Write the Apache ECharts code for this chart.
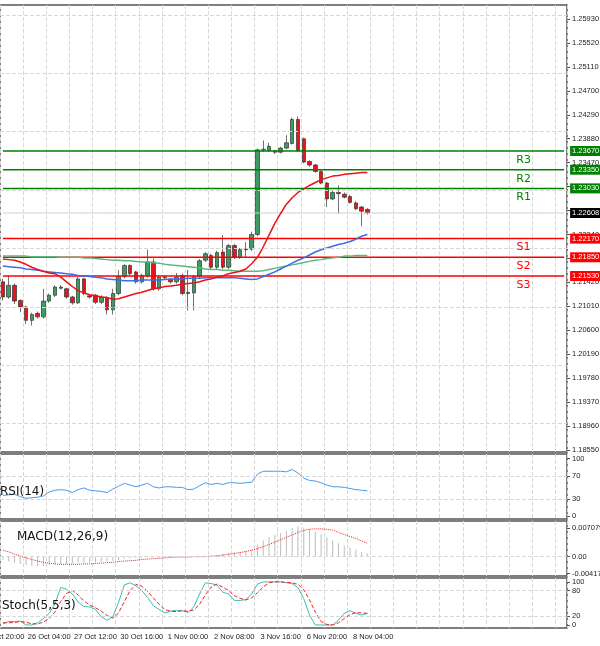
<!DOCTYPE html>
<html><head><meta charset="utf-8">
<script src="https://cdn.jsdelivr.net/npm/echarts@6/dist/echarts.min.js"></script>
<style>html,body{margin:0;padding:0;background:#fff}#c{width:600px;height:646px}</style>
</head><body><div id="c"></div>
<script>
const timeLabels=["25 Oct 20:00","26 Oct 04:00","27 Oct 12:00","30 Oct 16:00","1 Nov 00:00","2 Nov 08:00","3 Nov 16:00","6 Nov 20:00","8 Nov 04:00"];
const priceTicks=[1.25930,1.25520,1.25110,1.24700,1.24290,1.23880,1.23470,1.23060,1.22650,1.22240,1.21830,1.21420,1.21010,1.20600,1.20190,1.19780,1.19370,1.18960,1.18550];
// [open, close, low, high]
const ohlc=[
[1.2143,1.2117,1.2111,1.2148],[1.2117,1.2137,1.2114,1.2154],[1.2137,1.2110,1.2105,1.2140],[1.2111,1.2100,1.2091,1.2113],
[1.2100,1.2077,1.2071,1.2102],[1.2077,1.2087,1.2068,1.2090],[1.2089,1.2083,1.2080,1.2092],[1.2083,1.2110,1.2080,1.2131],
[1.2110,1.2120,1.2107,1.2123],[1.2120,1.2134,1.2117,1.2137],[1.2132,1.2134,1.2130,1.2137],[1.2131,1.2117,1.2114,1.2133],
[1.2117,1.2107,1.2104,1.2119],[1.2107,1.2148,1.2105,1.2151],[1.2148,1.2123,1.2120,1.2150],[1.2119,1.2117,1.2114,1.2122],
[1.2120,1.2108,1.2105,1.2122],[1.2108,1.2117,1.2105,1.2120],[1.2115,1.2095,1.2087,1.2118],[1.2095,1.2123,1.2087,1.2131],
[1.2123,1.2152,1.2120,1.2163],[1.2152,1.2171,1.2149,1.2173],[1.2171,1.2157,1.2154,1.2173],[1.2160,1.2143,1.2140,1.2162],
[1.2143,1.2154,1.2140,1.2157],[1.2154,1.2177,1.2150,1.2198],[1.2177,1.2131,1.2128,1.2183],[1.2131,1.2151,1.2128,1.2154],
[1.2151,1.2150,1.2147,1.2154],[1.2147,1.2143,1.2140,1.2149],[1.2143,1.2151,1.2140,1.2158],[1.2154,1.2123,1.2120,1.2157],
[1.2123,1.2125,1.2094,1.2163],[1.2124,1.2152,1.2094,1.2155],[1.2152,1.2179,1.2149,1.2182],[1.2180,1.2191,1.2177,1.2194],
[1.2188,1.2168,1.2165,1.2191],[1.2168,1.2193,1.2165,1.2196],[1.2194,1.2168,1.2165,1.2223],[1.2168,1.2205,1.2165,1.2208],
[1.2205,1.2185,1.2182,1.2208],[1.2185,1.2198,1.2182,1.2201],[1.2198,1.2199,1.2185,1.2211],[1.2199,1.2224,1.2196,1.2229],
[1.2224,1.2369,1.2221,1.2371],[1.2369,1.2370,1.2365,1.2385],[1.2368,1.2375,1.2366,1.2381],[1.2367,1.2365,1.2362,1.2369],
[1.2365,1.2372,1.2363,1.2374],[1.2372,1.2381,1.2370,1.2394],[1.2380,1.2421,1.2378,1.2424],[1.2421,1.2368,1.2365,1.2426],
[1.2388,1.2348,1.2346,1.2390],[1.2349,1.2343,1.2340,1.2351],[1.2343,1.2332,1.2330,1.2345],[1.2332,1.2312,1.2310,1.2334],
[1.2312,1.2285,1.2271,1.2314],[1.2285,1.2296,1.2283,1.2299],[1.2296,1.2294,1.2260,1.2308],[1.2293,1.2288,1.2286,1.2296],
[1.2289,1.2279,1.2277,1.2292],[1.2278,1.2268,1.2266,1.2281],[1.2271,1.2264,1.2238,1.2273],[1.2267,1.2261,1.2258,1.2269]];
const maRed=[1.2182,1.2181,1.2180,1.2177,1.2173,1.2168,1.2164,1.2161,1.2158,1.2157,1.2151,1.2143,1.2135,1.2128,1.2124,1.2121,1.2119,1.2117,1.2116,1.2113,1.2114,1.2117,1.2120,1.2123,1.2125,1.2128,1.2131,1.2133,1.2135,1.2136,1.2137,1.2139,1.2140,1.2141,1.2143,1.2146,1.2148,1.2151,1.2153,1.2157,1.2159,1.2161,1.2165,1.2174,1.2185,1.2203,1.2223,1.2243,1.2260,1.2276,1.2287,1.2296,1.2302,1.2308,1.2313,1.2318,1.2321,1.2324,1.2325,1.2327,1.2328,1.2329,1.2330,1.2330];
const maBlue=[1.2170,1.2169,1.2168,1.2167,1.2165,1.2164,1.2163,1.2161,1.2160,1.2159,1.2158,1.2157,1.2156,1.2154,1.2153,1.2152,1.2151,1.2150,1.2148,1.2147,1.2146,1.2145,1.2145,1.2145,1.2146,1.2146,1.2146,1.2146,1.2147,1.2148,1.2148,1.2148,1.2149,1.2149,1.2149,1.2150,1.2150,1.2150,1.2150,1.2150,1.2150,1.2149,1.2148,1.2147,1.2148,1.2152,1.2156,1.2160,1.2165,1.2170,1.2175,1.2180,1.2184,1.2189,1.2194,1.2198,1.2201,1.2204,1.2207,1.2209,1.2212,1.2216,1.2221,1.2224];
const maGreen=[1.2187,1.2187,1.2187,1.2187,1.2187,1.2186,1.2186,1.2186,1.2186,1.2186,1.2185,1.2185,1.2185,1.2185,1.2184,1.2184,1.2183,1.2182,1.2181,1.2180,1.2180,1.2179,1.2179,1.2178,1.2177,1.2177,1.2176,1.2175,1.2173,1.2172,1.2171,1.2170,1.2169,1.2168,1.2167,1.2165,1.2164,1.2164,1.2163,1.2163,1.2162,1.2161,1.2161,1.2161,1.2161,1.2162,1.2164,1.2166,1.2168,1.2170,1.2172,1.2174,1.2176,1.2178,1.2180,1.2181,1.2183,1.2184,1.2185,1.2187,1.2187,1.2188,1.2188,1.2188];
const rsi=[36,37,38,34,31,32,33,35,42,45,46,45,41,46,49,45,44,43,41,47,52,57,54,51,54,57,51,49,51,51,50,50,46,47,53,58,55,57,55,58,58,57,58,59,73,78,78,78,78,77,81,75,66,62,61,58,54,51,51,50,48,46,45,44];
const macdHist=[-0.0008,-0.0012,-0.0015,-0.0018,-0.0021,-0.0023,-0.0024,-0.0023,-0.0021,-0.0019,-0.0018,-0.0018,-0.0017,-0.0015,-0.0015,-0.0015,-0.0014,-0.0013,-0.0012,-0.0010,-0.0008,-0.0005,-0.0004,-0.0003,-0.0003,-0.0002,-0.0002,-0.0002,-0.0001,-0.0001,-0.0001,-0.0001,0.0000,0.0001,0.0002,0.0003,0.0004,0.0005,0.0007,0.0009,0.0011,0.0013,0.0014,0.0016,0.0030,0.0040,0.0048,0.0053,0.0058,0.0063,0.0071,0.0075,0.0072,0.0068,0.0062,0.0055,0.0048,0.0040,0.0033,0.0028,0.0023,0.0018,0.0012,0.0008];
const macdSignal=[0.0016,0.0012,0.0006,0.0002,-0.0003,-0.0007,-0.0011,-0.0014,-0.0016,-0.0018,-0.0019,-0.0019,-0.0019,-0.0019,-0.0018,-0.0018,-0.0017,-0.0016,-0.0015,-0.0014,-0.0012,-0.0011,-0.0010,-0.0009,-0.0007,-0.0006,-0.0005,-0.0004,-0.0003,-0.0002,-0.0001,-0.0001,-0.0001,0.0000,0.0000,0.0000,0.0001,0.0002,0.0004,0.0006,0.0008,0.0010,0.0013,0.0016,0.0020,0.0025,0.0030,0.0036,0.0042,0.0048,0.0054,0.0060,0.0065,0.0068,0.0069,0.0069,0.0068,0.0066,0.0060,0.0055,0.0050,0.0045,0.0039,0.0033];
const stochK=[3,8,8,9,0,0,5,15,27,49,87,83,72,53,43,42,36,19,11,19,53,93,98,91,80,64,45,36,28,32,34,33,29,42,72,98,96,93,76,72,57,57,59,72,95,100,100,100,100,98,96,87,61,23,0,0,0,0,11,27,33,27,23,27];
const stochD=[5,5,6,8,6,3,2,7,15,30,55,73,80,70,56,46,40,32,22,16,28,55,80,94,90,78,63,48,36,32,31,33,32,35,48,70,88,95,88,80,68,62,58,63,75,88,98,100,100,99,98,94,82,58,30,8,1,0,5,15,24,29,28,27];
const levelNames=["R3","R2","R1","S1","S2","S3"];
const levelValues=[1.23670,1.23350,1.23030,1.22170,1.21850,1.21530];
const levelColors=["#008000","#008000","#008000","#ff0000","#ff0000","#ff0000"];
const lastPrice=1.22608;
const N=98;
const cats=[];for(let i=0;i<N;i++)cats.push(i%8===0&&timeLabels[i/8]?timeLabels[i/8]:"c"+i);

const grids=[{top:5,height:447},{top:454,height:65},{top:521,height:55},{top:578,height:50}].map(g=>Object.assign({left:0,right:33,show:true,borderColor:'#555',borderWidth:1.5,outerBoundsMode:'none',containLabel:false},g));
const xAxes=grids.map((g,k)=>({type:'category',gridIndex:k,data:cats,boundaryGap:true,
 axisLine:{show:false},axisTick:{show:false},
 splitLine:{show:true,interval:3,lineStyle:{color:'#d8d8d8',type:'dashed'}},
 axisLabel:{show:k===3,interval:(i)=>i%8===0&&i/8<timeLabels.length,formatter:v=>v.startsWith('c')?'':v,fontSize:7.5,color:'#222',margin:5,fontFamily:'Liberation Sans',hideOverlap:false,showMinLabel:true}}));
const lab={fontSize:7.5,color:'#222',fontFamily:'Liberation Sans',margin:5,showMinLabel:true,showMaxLabel:true};
const yAxes=[
 {gridIndex:0,min:1.18516,max:1.26170,position:'right',axisLabel:Object.assign({customValues:priceTicks,formatter:v=>v.toFixed(5)},lab),axisTick:{customValues:priceTicks,show:true,length:3,lineStyle:{color:'#555'}},splitLine:{show:false}},
 {gridIndex:1,min:-5,max:108,position:'right',axisLabel:Object.assign({customValues:[0,30,70,100]},lab),axisTick:{customValues:[0,30,70,100],show:true,length:3},splitLine:{show:false}},
 {gridIndex:2,min:-0.0048,max:0.00885,position:'right',axisLabel:Object.assign({customValues:[-0.004172,0,0.007079],formatter:v=>v===0?'0.00':String(v)},lab),axisTick:{customValues:[-0.004172,0,0.007079],show:true,length:3},splitLine:{show:false}},
 {gridIndex:3,min:-7,max:109,position:'right',axisLabel:Object.assign({customValues:[0,20,80,100]},lab),axisTick:{customValues:[0,20,80,100],show:true,length:3},splitLine:{show:false}}
].map(a=>Object.assign({type:'value',axisLine:{show:false}},a));

const dash=(vals)=>({silent:true,symbol:'none',data:vals.map(v=>({yAxis:v})),lineStyle:{color:'#d8d8d8',type:'dashed',width:1},label:{show:false}});
const flat=(v)=>cats.map(()=>v);
const endLab=(txt,bg)=>({show:true,formatter:txt,backgroundColor:bg,color:'#fff',fontSize:7.5,padding:[1,2],fontFamily:'Liberation Sans',distance:6});

const series=[
 {type:'line',xAxisIndex:0,yAxisIndex:0,data:[],markLine:dash(priceTicks)},
 {type:'line',xAxisIndex:0,yAxisIndex:0,data:flat(lastPrice),symbol:'none',silent:true,lineStyle:{color:'#cfcfcf',width:1},endLabel:endLab(lastPrice.toFixed(5),'#000')}
];
levelValues.forEach((v,i)=>series.push({type:'line',xAxisIndex:0,yAxisIndex:0,data:flat(v),symbol:'none',silent:true,
 lineStyle:{color:levelColors[i],width:1.5},endLabel:endLab(v.toFixed(5),levelColors[i]),
 markPoint:{symbol:'circle',symbolSize:0,data:[{coord:[90,v],label:{show:true,formatter:levelNames[i],color:levelColors[i],fontSize:11,offset:[0,9],fontFamily:'DejaVu Sans'}}]}}));
series.push(
 {type:'candlestick',xAxisIndex:0,yAxisIndex:0,data:ohlc,barWidth:4,
  itemStyle:{color:'#3c9c64',color0:'#e8141c',borderColor:'#333',borderColor0:'#333',borderWidth:0.7}},
 {type:'line',xAxisIndex:0,yAxisIndex:0,data:maGreen,symbol:'none',lineStyle:{color:'#5cb87c',width:1.5}},
 {type:'line',xAxisIndex:0,yAxisIndex:0,data:maBlue,symbol:'none',lineStyle:{color:'#3b6ee8',width:1.5}},
 {type:'line',xAxisIndex:0,yAxisIndex:0,data:maRed,symbol:'none',lineStyle:{color:'#ee1111',width:1.5}},
 {type:'line',xAxisIndex:1,yAxisIndex:1,data:rsi,symbol:'none',lineStyle:{color:'#4a9ae8',width:1},markLine:dash([30,70])},
 {type:'bar',xAxisIndex:2,yAxisIndex:2,data:macdHist,barWidth:1,itemStyle:{color:'#bdbdbd'},markLine:dash([0])},
 {type:'line',xAxisIndex:2,yAxisIndex:2,data:macdSignal,symbol:'none',lineStyle:{color:'#ee2222',width:1,type:'dotted'}},
 {type:'line',xAxisIndex:3,yAxisIndex:3,data:stochK,symbol:'none',lineStyle:{color:'#3cbcb0',width:1},markLine:dash([20,80])},
 {type:'line',xAxisIndex:3,yAxisIndex:3,data:stochD,symbol:'none',lineStyle:{color:'#ee2222',width:1,type:'dashed'}}
);
const t=(txt,l,tp)=>({text:txt,left:l,top:tp,textStyle:{fontSize:12,fontWeight:'normal',color:'#111',fontFamily:'DejaVu Sans'}});
const chart=echarts.init(document.getElementById('c'));
chart.setOption({animation:false,grid:grids,xAxis:xAxes,yAxis:yAxes,series:series,
 title:[t('RSI(14)',-5,481),t('MACD(12,26,9)',12,526),t('Stoch(5,5,3)',-3,595)]});
</script></body></html>
